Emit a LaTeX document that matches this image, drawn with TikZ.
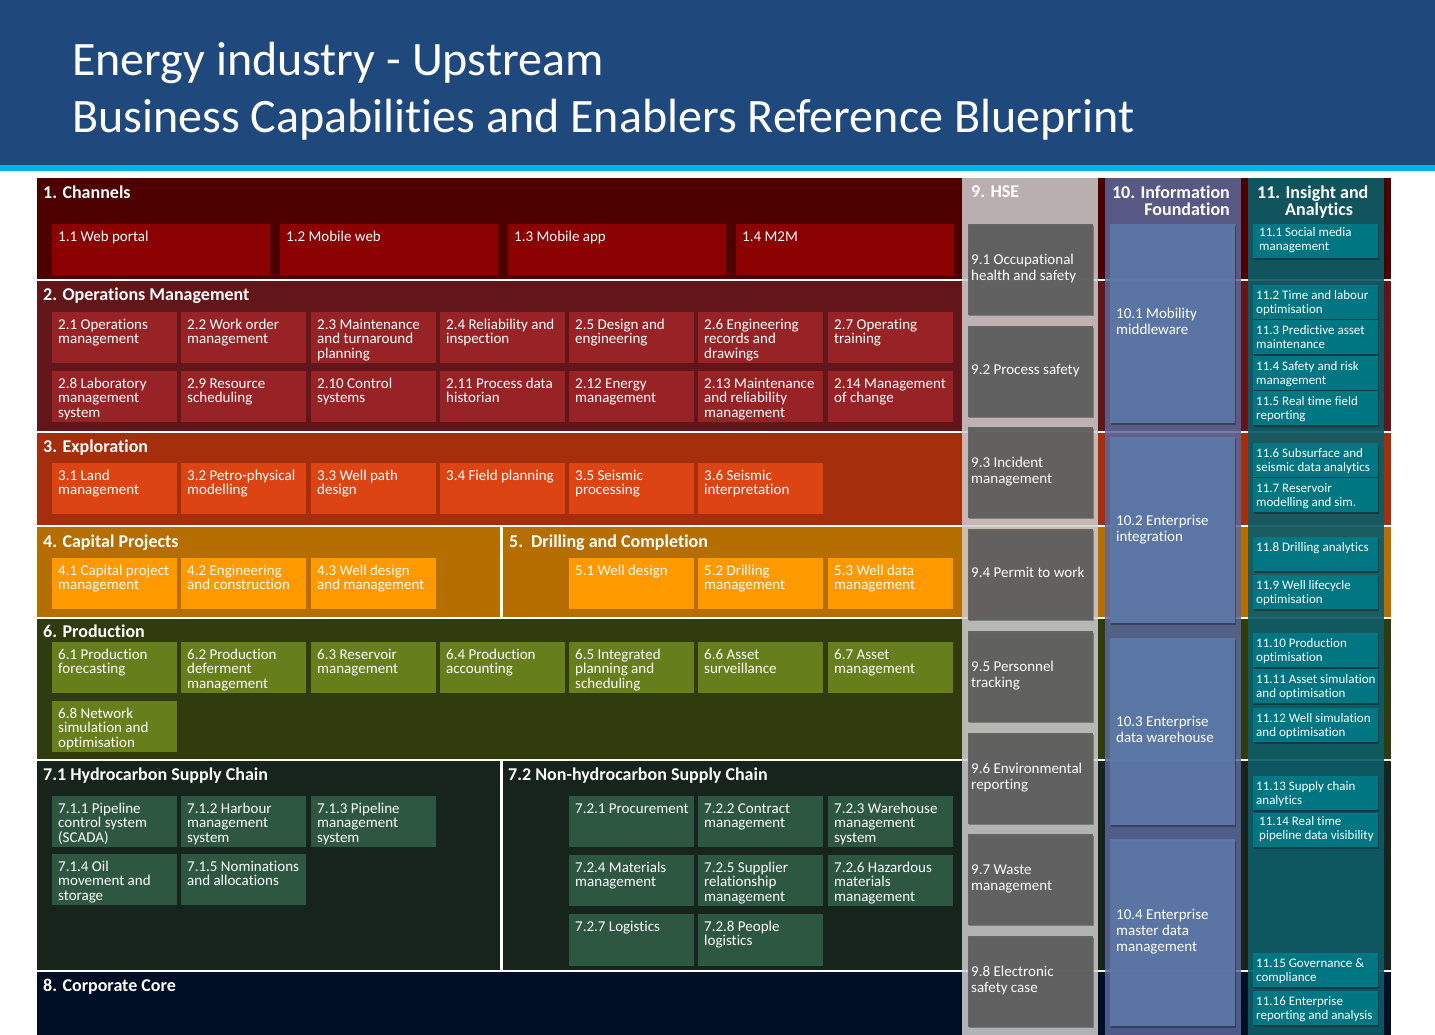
\documentclass[tikz,border=0pt]{standalone}
\usepackage{fontspec}
\setmainfont{Carlito}[Ligatures=NoCommon]
\usetikzlibrary{shadows}
\definecolor{hdrblue}{RGB}{31,73,125}
\definecolor{hdrcyan}{RGB}{0,176,240}
\definecolor{cAband}{RGB}{76,0,0}
\definecolor{cAitem}{RGB}{139,0,0}
\definecolor{cBband}{RGB}{99,22,25}
\definecolor{cBitem}{RGB}{152,35,38}
\definecolor{cCband}{RGB}{165,46,13}
\definecolor{cCitem}{RGB}{221,68,20}
\definecolor{cDband}{RGB}{183,110,0}
\definecolor{cDitem}{RGB}{255,153,0}
\definecolor{cEband}{RGB}{48,60,14}
\definecolor{cEitem}{RGB}{103,126,29}
\definecolor{cFband}{RGB}{22,36,28}
\definecolor{cFitem}{RGB}{45,87,65}
\definecolor{cGband}{RGB}{0,14,38}
\definecolor{hsebg}{RGB}{206,206,206}
\definecolor{hseitem}{RGB}{95,95,95}
\definecolor{infobg}{RGB}{90,104,155}
\definecolor{infoitem}{RGB}{93,122,170}
\definecolor{insbg}{RGB}{14,92,102}
\definecolor{insitem}{RGB}{0,122,135}
\newcommand\fst{\rule{0pt}{12pt}}
\tikzset{
  ibx/.style={rectangle, inner sep=0pt, anchor=north west, draw=none},
  itxt/.style={anchor=north west, inner sep=0pt, align=left, text=white, font=\fontsize{15}{14.5}\selectfont},
  ctxt/.style={anchor=north west, inner sep=0pt, align=left, text=white, font=\fontsize{15}{16}\selectfont},
  stxt/.style={anchor=north west, inner sep=0pt, align=left, text=white, font=\fontsize{13}{14}\selectfont},
  bhead/.style={anchor=base west, inner sep=0pt, text=white, font=\fontsize{18}{17}\selectfont\bfseries},
  chead/.style={inner sep=0pt, text=white, font=\fontsize{18}{17}\selectfont\bfseries},
  ttl/.style={anchor=base west, inner sep=0pt, text=white, font=\fontsize{48}{57}\selectfont},
  shad/.style={drop shadow={shadow xshift=1pt, shadow yshift=-1.5pt, opacity=0.3, fill=black}},
}
% name, x, y, w, h, colour, text
\newcommand\ibox[7]{%
  \node[ibx, fill=#6, minimum width=#4, minimum height=#5] (#1) at (#2,#3) {};
  \node[itxt] (#1t) at ([xshift=6pt,yshift=-5pt]#1.north west) {\fst #7};}
% HSE / info boxes: name, x, y, w, h, colour, lines, text-xoffset, text
\newcommand\cbox[9]{%
  \node[ibx, shad, fill=#6, fill opacity=0.93, minimum width=#4, minimum height=#5] (#1) at (#2,#3) {};
  \node[ctxt] (#1t) at ([xshift=#8pt,yshift={9pt+8pt*(#7-1)}]#1.west) {\fst #9};}
% insight boxes: name, y, text-xoffset, text-yoffset, text
\newcommand\insbox[5]{%
  \node[ibx, shad, fill=insitem, fill opacity=0.95, minimum width=125, minimum height=34] (#1) at (1253,#2) {};
  \node[stxt] (#1t) at ([xshift=#3pt,yshift=-#4pt]#1.north west) {\fst #5};}
\begin{document}
\begin{tikzpicture}[x=1pt,y=-1pt]
\useasboundingbox (0,0) rectangle (1435,1035);
\fill[white] (0,0) rectangle (1435,1035);
% header
\fill[hdrblue] (0,0) rectangle (1435,165);
\fill[hdrcyan] (0,165) rectangle (1435,171);
\node[ttl] (title1) at (72,76) {Energy industry - Upstream};
\node[ttl] (title2) at (72,133) {Business Capabilities and Enablers Reference Blueprint};
% bands
\fill[cAband] (37,178) rectangle (1391,279);
\fill[cBband] (37,281) rectangle (1391,431);
\fill[cCband] (37,433) rectangle (1391,525);
\fill[cDband] (37,527) rectangle (500,617);
\fill[cDband] (503,527) rectangle (1391,617);
\fill[cEband] (37,619) rectangle (1391,759);
\fill[cFband] (37,761) rectangle (500,970);
\fill[cFband] (503,761) rectangle (1391,970);
\fill[cGband] (37,972) rectangle (1391,1035);
% band headings
\node[bhead] (h1) at (43,199) {1. Channels};
\node[bhead] (h2) at (43,300) {2. Operations Management};
\node[bhead] (h3) at (43,452) {3. Exploration};
\node[bhead] (h4) at (43,547) {4. Capital Projects};
\node[bhead] (h5) at (509,547) {5.\hspace{8pt}Drilling and Completion};
\node[bhead] (h6) at (43,637) {6. Production};
\node[bhead] (h71) at (43,780) {7.1 Hydrocarbon Supply Chain};
\node[bhead] (h72) at (508,780) {7.2 Non-hydrocarbon Supply Chain};
\node[bhead] (h8) at (43,991) {8. Corporate Core};
% 1 channels
\ibox{i11}{52}{224}{218}{51}{cAitem}{1.1 Web portal}
\ibox{i12}{280}{224}{218}{51}{cAitem}{1.2 Mobile web}
\ibox{i13}{508}{224}{218}{51}{cAitem}{1.3 Mobile app}
\ibox{i14}{736}{224}{218}{51}{cAitem}{1.4 M2M}
% 2 operations
\ibox{i21}{52}{312}{125}{51}{cBitem}{2.1 Operations\\management}
\ibox{i22}{181}{312}{125}{51}{cBitem}{2.2 Work order\\management}
\ibox{i23}{311}{312}{125}{51}{cBitem}{2.3 Maintenance\\and turnaround\\planning}
\ibox{i24}{440}{312}{125}{51}{cBitem}{2.4 Reliability and\\inspection}
\ibox{i25}{569}{312}{125}{51}{cBitem}{2.5 Design and\\engineering}
\ibox{i26}{698}{312}{125}{51}{cBitem}{2.6 Engineering\\records and\\drawings}
\ibox{i27}{828}{312}{125}{51}{cBitem}{2.7 Operating\\training}
\ibox{i28}{52}{371}{125}{51}{cBitem}{2.8 Laboratory\\management\\system}
\ibox{i29}{181}{371}{125}{51}{cBitem}{2.9 Resource\\scheduling}
\ibox{i210}{311}{371}{125}{51}{cBitem}{2.10 Control\\systems}
\ibox{i211}{440}{371}{125}{51}{cBitem}{2.11 Process data\\historian}
\ibox{i212}{569}{371}{125}{51}{cBitem}{2.12 Energy\\management}
\ibox{i213}{698}{371}{125}{51}{cBitem}{2.13 Maintenance\\and reliability\\management}
\ibox{i214}{828}{371}{125}{51}{cBitem}{2.14 Management\\of change}
% 3 exploration
\ibox{i31}{52}{463}{125}{51}{cCitem}{3.1 Land\\management}
\ibox{i32}{181}{463}{125}{51}{cCitem}{3.2 Petro-physical\\modelling}
\ibox{i33}{311}{463}{125}{51}{cCitem}{3.3 Well path\\design}
\ibox{i34}{440}{463}{125}{51}{cCitem}{3.4 Field planning}
\ibox{i35}{569}{463}{125}{51}{cCitem}{3.5 Seismic\\processing}
\ibox{i36}{698}{463}{125}{51}{cCitem}{3.6 Seismic\\interpretation}
% 4 / 5
\ibox{i41}{52}{558}{125}{51}{cDitem}{4.1 Capital project\\management}
\ibox{i42}{181}{558}{125}{51}{cDitem}{4.2 Engineering\\and construction}
\ibox{i43}{311}{558}{125}{51}{cDitem}{4.3 Well design\\and management}
\ibox{i51}{569}{558}{125}{51}{cDitem}{5.1 Well design}
\ibox{i52}{698}{558}{125}{51}{cDitem}{5.2 Drilling\\management}
\ibox{i53}{828}{558}{125}{51}{cDitem}{5.3 Well data\\management}
% 6 production
\ibox{i61}{52}{642}{125}{51}{cEitem}{6.1 Production\\forecasting}
\ibox{i62}{181}{642}{125}{51}{cEitem}{6.2 Production\\deferment\\management}
\ibox{i63}{311}{642}{125}{51}{cEitem}{6.3 Reservoir\\management}
\ibox{i64}{440}{642}{125}{51}{cEitem}{6.4 Production\\accounting}
\ibox{i65}{569}{642}{125}{51}{cEitem}{6.5 Integrated\\planning and\\scheduling}
\ibox{i66}{698}{642}{125}{51}{cEitem}{6.6 Asset\\surveillance}
\ibox{i67}{828}{642}{125}{51}{cEitem}{6.7 Asset\\management}
\ibox{i68}{52}{701}{125}{51}{cEitem}{6.8 Network\\simulation and\\optimisation}
% 7.1
\ibox{i711}{52}{796}{125}{51}{cFitem}{7.1.1 Pipeline\\control system\\(SCADA)}
\ibox{i712}{181}{796}{125}{51}{cFitem}{7.1.2 Harbour\\management\\system}
\ibox{i713}{311}{796}{125}{51}{cFitem}{7.1.3 Pipeline\\management\\system}
\ibox{i714}{52}{854}{125}{51}{cFitem}{7.1.4 Oil\\movement and\\storage}
\ibox{i715}{181}{854}{125}{51}{cFitem}{7.1.5 Nominations\\and allocations}
% 7.2
\ibox{i721}{569}{796}{125}{51}{cFitem}{7.2.1 Procurement}
\ibox{i722}{698}{796}{125}{51}{cFitem}{7.2.2 Contract\\management}
\ibox{i723}{828}{796}{125}{51}{cFitem}{7.2.3 Warehouse\\management\\system}
\ibox{i724}{569}{855}{125}{51}{cFitem}{7.2.4 Materials\\management}
\ibox{i725}{698}{855}{125}{51}{cFitem}{7.2.5 Supplier\\relationship\\management}
\ibox{i726}{828}{855}{125}{51}{cFitem}{7.2.6 Hazardous\\materials\\management}
\ibox{i727}{569}{914}{125}{52}{cFitem}{7.2.7 Logistics}
\ibox{i728}{698}{914}{125}{52}{cFitem}{7.2.8 People\\logistics}
% column 9 HSE
\fill[hsebg, fill opacity=0.85] (962,178) rectangle (1098,1035);
\node[bhead] (h9) at (971,198) {9. HSE};
\cbox{i91}{968}{224}{125}{90.5}{hseitem}{2}{3}{9.1 Occupational\\health and safety}
\cbox{i92}{968}{326}{125}{90.5}{hseitem}{1}{3}{9.2 Process safety}
\cbox{i93}{968}{427}{125}{90.5}{hseitem}{2}{3}{9.3 Incident\\management}
\cbox{i94}{968}{529}{125}{90.5}{hseitem}{1}{3}{9.4 Permit to work}
\cbox{i95}{968}{631}{125}{90.5}{hseitem}{2}{3}{9.5 Personnel\\tracking}
\cbox{i96}{968}{733}{125}{90.5}{hseitem}{2}{3}{9.6 Environmental\\reporting}
\cbox{i97}{968}{834}{125}{90.5}{hseitem}{2}{3}{9.7 Waste\\management}
\cbox{i98}{968}{936}{125}{90.5}{hseitem}{2}{3}{9.8 Electronic\\safety case}
% column 10 information foundation
\fill[infobg, fill opacity=0.85] (1105,178) rectangle (1241,1035);
\node[chead, anchor=north east, align=right] (h10) at (1230,185) {\rule{0pt}{13pt}10. Information\\Foundation};
\cbox{i101}{1110}{224}{125}{199}{infoitem}{2}{6}{10.1 Mobility\\middleware}
\cbox{i102}{1110}{437}{125}{186}{infoitem}{2}{6}{10.2 Enterprise\\integration}
\cbox{i103}{1110}{638}{125}{187}{infoitem}{2}{6}{10.3 Enterprise\\data warehouse}
\cbox{i104}{1110}{839}{125}{187}{infoitem}{3}{6}{10.4 Enterprise\\master data\\management}
% column 11 insight and analytics
\fill[insbg, fill opacity=0.92] (1248,178) rectangle (1384,1035);
\node[chead, anchor=north west, align=left] (h11) at (1257,185) {\rule{0pt}{13pt}11. Insight and\\\hspace*{28pt}Analytics};
\insbox{i111}{224}{6}{0}{11.1 Social media\\management}
\insbox{i112}{285}{3}{2}{11.2 Time and labour\\optimisation}
\insbox{i113}{320}{3}{2}{11.3 Predictive asset\\maintenance}
\insbox{i114}{356}{3}{2}{11.4 Safety and risk\\management}
\insbox{i115}{391}{3}{2}{11.5 Real time field\\reporting}
\insbox{i116}{443}{3}{2}{11.6 Subsurface and\\seismic data analytics}
\insbox{i117}{478}{3}{2}{11.7 Reservoir\\modelling and sim.}
\insbox{i118}{537}{3}{2}{11.8 Drilling analytics}
\insbox{i119}{575}{3}{2}{11.9 Well lifecycle\\optimisation}
\insbox{i1110}{633}{3}{2}{11.10 Production\\optimisation}
\insbox{i1111}{669}{3}{2}{11.11 Asset simulation\\and optimisation}
\insbox{i1112}{708}{3}{2}{11.12 Well simulation\\and optimisation}
\insbox{i1113}{776}{3}{2}{11.13 Supply chain\\analytics}
\insbox{i1114}{813}{6}{0}{11.14 Real time\\pipeline data visibility}
\insbox{i1115}{953}{3}{2}{11.15 Governance \&\\compliance}
\insbox{i1116}{991}{3}{2}{11.16 Enterprise\\reporting and analysis}
\end{tikzpicture}
\end{document}
